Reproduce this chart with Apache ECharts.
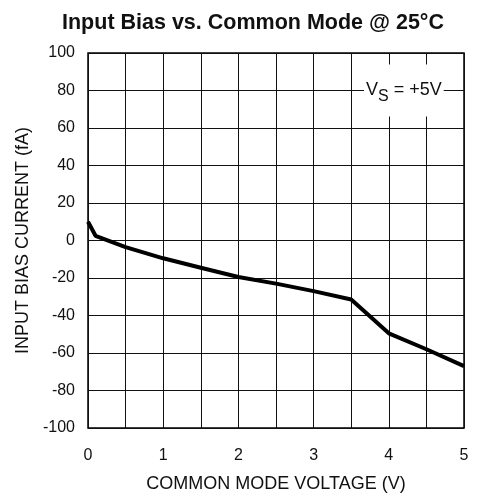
<!DOCTYPE html>
<html>
<head>
<meta charset="utf-8">
<script src="https://cdn.jsdelivr.net/npm/echarts@6/dist/echarts.min.js"></script>
<style>
  html, body { margin: 0; padding: 0; background: #fff; }
  #chart { width: 480px; height: 498px; }
</style>
</head>
<body>
<div id="chart"></div>
<script>
// common mode voltage (V)
var cmVolts = [0, 0.1, 0.5, 1, 1.5, 2, 2.5, 3, 3.5, 4, 4.5, 5]
// input bias current (fA)
var biasCurrent = [10, 2.5, -3.5, -9.5, -14.5, -19.5, -23, -27, -31.5, -49.5, -58, -67]
var noteAt = [4.2, 80]

var font = 'Liberation Sans, Arial, sans-serif'
var chart = echarts.init(document.getElementById('chart'))

var points = cmVolts.map(function (v, i) { return [v, biasCurrent[i]] })

chart.setOption({
  animation: false,
  title: {
    text: 'Input Bias vs. Common Mode @ 25°C',
    left: 248,
    textAlign: 'center',
    top: 7,
    textStyle: { fontFamily: font, fontSize: 21.5, fontWeight: 'bold', color: '#111' }
  },
  grid: {
    left: 88, right: 16, top: 53, bottom: 70,
    show: true, borderColor: '#000', borderWidth: 1.5,
    containLabel: false
  },
  xAxis: {
    type: 'value',
    min: 0, max: 5, interval: 0.5,
    name: 'COMMON MODE VOLTAGE (V)',
    nameLocation: 'middle',
    nameGap: 47,
    nameTextStyle: { fontFamily: font, fontSize: 18, color: '#111' },
    axisLine: { show: false },
    axisTick: { show: false },
    axisLabel: {
      margin: 20,
      fontFamily: font, fontSize: 16, color: '#111',
      formatter: function (v) { return Number.isInteger(v) ? String(v) : '' }
    },
    splitLine: { lineStyle: { color: '#111', width: 1 } }
  },
  yAxis: {
    type: 'value',
    min: -100, max: 100, interval: 20,
    name: 'INPUT BIAS CURRENT (fA)',
    nameLocation: 'middle',
    nameGap: 49,
    nameTextStyle: { fontFamily: font, fontSize: 18, color: '#111' },
    axisLine: { show: false },
    axisTick: { show: false },
    axisLabel: { margin: 13, fontFamily: font, fontSize: 16, color: '#111' },
    splitLine: { lineStyle: { color: '#111', width: 1 } }
  },
  series: [{
    type: 'line',
    data: points,
    showSymbol: false,
    lineStyle: { color: '#000', width: 4 }
  }]
})

// V_S note with white box over the grid
var p = chart.convertToPixel({ gridIndex: 0 }, noteAt)
chart.setOption({
  graphic: [{
    type: 'text',
    x: p[0], y: p[1],
    style: {
      text: '{v|V}{s|S}{v| = +5V}',
      align: 'center',
      verticalAlign: 'middle',
      backgroundColor: '#fff',
      padding: [12, 2, 12, 2],
      rich: {
        v: { fontFamily: font, fontSize: 18, fill: '#111' },
        s: { fontFamily: font, fontSize: 16, fill: '#111', padding: [12, 0, 0, 0] }
      }
    }
  }]
})
</script>
</body>
</html>
